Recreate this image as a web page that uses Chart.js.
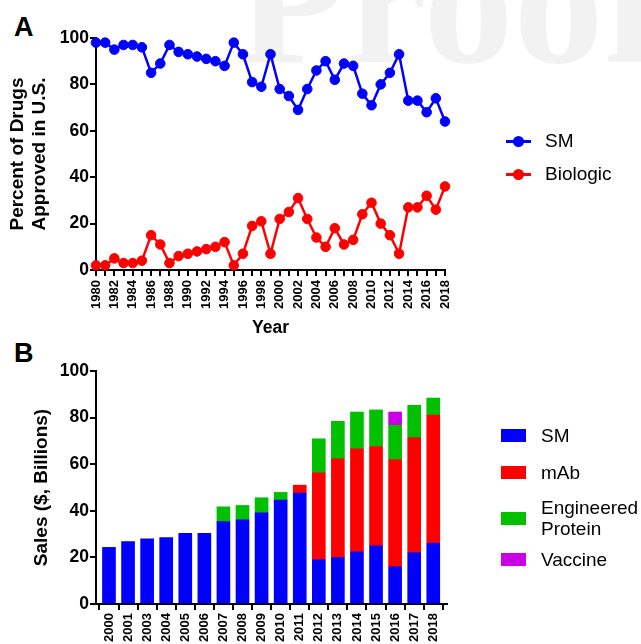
<!DOCTYPE html>
<html lang="en">
<head>
<meta charset="UTF-8">
<title>Drug approvals and sales</title>
<script src="https://cdn.jsdelivr.net/npm/chart.js"></script>
<style>
  body { margin: 0; background: #fff; font-family: "Liberation Sans", Arial, sans-serif; }
  #page { position: relative; width: 641px; height: 644px; overflow: hidden; }
  #watermark { position: absolute; left: 237px; top: -88px; font: bold 180px/180px "Liberation Serif", serif; color: #f2f2f2; white-space: nowrap; }
  canvas { position: absolute; left: 0; }
  .panel { position: absolute; left: 14px; font-size: 27px; line-height: 27px; font-weight: bold; }
  .legend-item { position: absolute; display: flex; align-items: center; font-size: 19px; line-height: 22px; color: #000; }
  .marker { position: relative; width: 25px; height: 3px; margin-right: 14px; }
  .marker span { position: absolute; left: 7px; top: -4px; width: 11px; height: 11px; border-radius: 50%; }
  .swatch { width: 25px; height: 13px; margin-right: 15px; }
</style>
</head>
<body>
<div id="page">
  <div id="watermark">Proof</div>
  <div class="panel" style="top:14px">A</div>
  <div class="panel" style="top:340px">B</div>
  <canvas id="approvals" width="641" height="340" style="top:0"></canvas>
  <canvas id="sales" width="641" height="304" style="top:340px"></canvas>
  <div id="legends"></div>
</div>
<script>
// panel A: share of new drug approvals in the U.S.
const years = [1980, 1981, 1982, 1983, 1984, 1985, 1986, 1987, 1988, 1989,
  1990, 1991, 1992, 1993, 1994, 1995, 1996, 1997, 1998, 1999,
  2000, 2001, 2002, 2003, 2004, 2005, 2006, 2007, 2008, 2009,
  2010, 2011, 2012, 2013, 2014, 2015, 2016, 2017, 2018];
const smPercent = [98, 98, 95, 97, 97, 96, 85, 89, 97, 94,
  93, 92, 91, 90, 88, 98, 93, 81, 79, 93,
  78, 75, 69, 78, 86, 90, 82, 89, 88, 76,
  71, 80, 85, 93, 73, 73, 68, 74, 64];
const biologicPercent = [2, 2, 5, 3, 3, 4, 15, 11, 3, 6,
  7, 8, 9, 10, 12, 2, 7, 19, 21, 7,
  22, 25, 31, 22, 14, 10, 18, 11, 13, 24,
  29, 20, 15, 7, 27, 27, 32, 26, 36];

// panel B: sales, $ billions
const salesYears = ['2000', '2001', '2003', '2004', '2005', '2006', '2007', '2008', '2009',
  '2010', '2011', '2012', '2013', '2014', '2015', '2016', '2017', '2018'];
const smSales = [24.3, 26.8, 28, 28.5, 30.3, 30.3, 35.4, 36.1, 39.1,
  44.6, 47.6, 19, 20, 22.4, 25, 16, 22, 26.1];
const mabSales = [null, null, null, null, null, null, null, null, null,
  null, 3.4, 37.3, 42.3, 44.2, 42.6, 46, 49.4, 55];
const proteinSales = [null, null, null, null, null, null, 6.3, 6.2, 6.5,
  3.3, null, 14.6, 16.1, 15.8, 15.7, 14.7, 13.9, 7.3];
const vaccineSales = [null, null, null, null, null, null, null, null, null,
  null, null, null, null, null, null, 5.7, null, null];

const BLUE = '#0000ff', RED = '#ff0000', GREEN = '#00c000', PURPLE = '#cc00e6';
const FONT = '"Liberation Sans", Arial, sans-serif';

function axisStyle() {
  return {
    grid: { drawOnChartArea: false, tickLength: 6, color: '#000', lineWidth: 2 },
    border: { color: '#000', width: 2 }
  };
}

function lineSet(label, values, color) {
  return {
    label: label,
    data: years.map((y, i) => ({ x: y, y: values[i] })),
    borderColor: color,
    backgroundColor: color,
    borderWidth: 2.5,
    pointRadius: 4.8,
    pointHoverRadius: 4.8,
    pointBorderWidth: 1,
    tension: 0,
    clip: false
  };
}

new Chart(document.getElementById('approvals'), {
  type: 'line',
  data: { datasets: [lineSet('SM', smPercent, BLUE), lineSet('Biologic', biologicPercent, RED)] },
  options: {
    responsive: false,
    animation: false,
    layout: { padding: { top: 38, right: 196, left: 0, bottom: 0 } },
    plugins: { legend: { display: false }, tooltip: { enabled: false } },
    scales: {
      x: {
        type: 'linear', min: 1980, max: 2018,
        ...axisStyle(),
        ticks: {
          stepSize: 1, autoSkip: false, maxRotation: 90, minRotation: 90, padding: 4,
          color: '#000', font: { family: FONT, size: 13, weight: 'bold' },
          callback: v => (v % 2 === 0 ? String(v) : '')
        },
        title: { display: true, text: 'Year', color: '#000', padding: { top: 0, bottom: 1.5 },
          font: { family: FONT, size: 17.5, weight: 'bold' } },
        afterFit: s => { s.height = 70; }
      },
      y: {
        min: 0, max: 100,
        ...axisStyle(),
        ticks: { stepSize: 20, padding: 1, color: '#000', font: { family: FONT, size: 17.5, weight: 'bold' } },
        title: { display: true, text: ['Percent of Drugs', 'Approved in U.S.'], color: '#000',
          padding: { top: 6, bottom: 0 }, font: { family: FONT, size: 19, weight: 'bold' } },
        afterFit: s => { s.width = 96; }
      }
    }
  }
});

function barSet(label, values, color) {
  return {
    label: label,
    data: salesYears.map((_, i) => ({ x: i, y: values[i] })),
    backgroundColor: color,
    borderWidth: 0,
    barThickness: 13
  };
}

new Chart(document.getElementById('sales'), {
  type: 'bar',
  data: {
    datasets: [
      barSet('SM', smSales, BLUE),
      barSet('mAb', mabSales, RED),
      barSet('Engineered Protein', proteinSales, GREEN),
      barSet('Vaccine', vaccineSales, PURPLE)
    ]
  },
  options: {
    responsive: false,
    animation: false,
    layout: { padding: { top: 31, right: 194, left: 0, bottom: 0 } },
    plugins: { legend: { display: false }, tooltip: { enabled: false } },
    scales: {
      x: {
        type: 'linear', stacked: true, min: -0.68, max: 17.72, offset: false,
        ...axisStyle(),
        ticks: {
          stepSize: 1, includeBounds: false, autoSkip: false, maxRotation: 90, minRotation: 90, padding: 3,
          color: '#000', font: { family: FONT, size: 13, weight: 'bold' },
          callback: v => (Number.isInteger(v) ? salesYears[v] : '')
        },
        afterFit: s => { s.height = 40; }
      },
      y: {
        stacked: true, min: 0, max: 100,
        ...axisStyle(),
        ticks: { stepSize: 20, padding: 1, color: '#000', font: { family: FONT, size: 17.5, weight: 'bold' } },
        title: { display: true, text: 'Sales ($, Billions)', color: '#000',
          padding: { top: 30, bottom: 0 }, font: { family: FONT, size: 19, weight: 'bold' } },
        afterFit: s => { s.width = 96; }
      }
    }
  }
});

// legends
const legends = document.getElementById('legends');
function addItem(left, top, html) {
  const d = document.createElement('div');
  d.className = 'legend-item';
  d.style.left = left + 'px';
  d.style.top = top + 'px';
  d.innerHTML = html;
  legends.appendChild(d);
}
[['SM', BLUE, 130], ['Biologic', RED, 163]].forEach(([name, color, top]) => {
  addItem(506, top, '<div class="marker" style="background:' + color + '"><span style="background:' + color +
    '"></span></div><div>' + name + '</div>');
});
[['SM', BLUE, 425], ['mAb', RED, 462], ['Engineered<br>Protein', GREEN, 497], ['Vaccine', PURPLE, 549]].forEach(([name, color, top]) => {
  addItem(501, top, '<div class="swatch" style="background:' + color + '"></div><div style="line-height:21px">' + name + '</div>');
});
</script>
</body>
</html>
